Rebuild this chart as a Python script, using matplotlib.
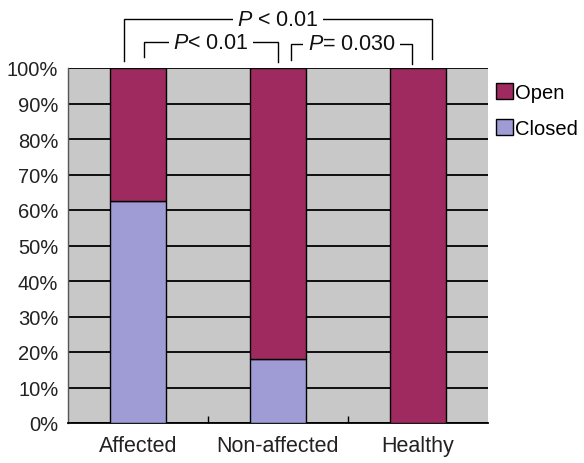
import matplotlib
matplotlib.use("Agg")
import matplotlib.pyplot as plt
from matplotlib.patches import Patch

plt.rcParams['font.family'] = ['Liberation Sans', 'DejaVu Sans']
plt.rcParams['mathtext.fontset'] = 'custom'
plt.rcParams['mathtext.rm'] = 'Liberation Sans'
plt.rcParams['mathtext.it'] = 'Liberation Sans:italic'

categories = ["Affected", "Non-affected", "Healthy"]
closed = [62.4, 18.0, 0.0]
open_ = [37.6, 82.0, 100.0]
yticks = [0, 10, 20, 30, 40, 50, 60, 70, 80, 90, 100]
p_labels = [r"$\mathit{P}$ < 0.01", r"$\mathit{P}$< 0.01", r"$\mathit{P}$= 0.030"]

c_open = "#9E2A5F"
c_closed = "#9F9BD5"
c_bg = "#C8C8C8"

fig = plt.figure(figsize=(5.84, 4.64), dpi=100)
ax = fig.add_axes([68/584, 40/464, 420/584, 355/464])
ax.set_facecolor(c_bg)

x = list(range(len(categories)))
ax.bar(x, closed, width=0.4, color=c_closed, edgecolor="black", linewidth=1.0, zorder=3, label="Closed")
ax.bar(x, open_, bottom=closed, width=0.4, color=c_open, edgecolor="black", linewidth=1.0, zorder=3, label="Open")

ax.set_xlim(-0.5, 2.5)
ax.set_ylim(0, 100)
ax.set_yticks(yticks)
ax.set_yticklabels([f"{v}%" for v in yticks], fontsize=14.5, color="#222222")
ax.set_xticks(x)
ax.set_xticklabels(categories, fontsize=15.5, color="#222222")
ax.set_xticks([0.5, 1.5], minor=True)
ax.tick_params(axis='x', which='major', length=0, pad=9)
ax.tick_params(axis='x', which='minor', direction='in', length=5, width=1.0, color='black')
ax.tick_params(axis='y', length=0, pad=7)
ax.yaxis.grid(True, color='black', linewidth=1.3, zorder=1)
ax.set_axisbelow(True)
for s in ['top', 'right']:
    ax.spines[s].set_visible(False)
ax.spines['left'].set_color('#555555')
ax.spines['left'].set_linewidth(1.0)
ax.spines['bottom'].set_color('black')
ax.spines['bottom'].set_linewidth(1.3)

def bracket(x0, x1, ytop, ybot0, ybot1, label):
    ax.plot([x0, x0, x1, x1], [ybot0, ytop, ytop, ybot1], color='black', lw=1.0,
            clip_on=False, zorder=4, solid_joinstyle='miter')
    ax.text((x0 + x1) / 2, ytop, label, ha='center', va='center', fontsize=15.5,
            color='#111111', clip_on=False, zorder=5,
            bbox=dict(facecolor='white', edgecolor='none', pad=3))

bracket(-0.1, 2.1, 113.8, 102.0, 102.5, p_labels[0])
bracket(0.043, 1.0, 107.2, 103.0, 101.8, p_labels[1])
bracket(1.093, 1.957, 106.8, 102.2, 101.0, p_labels[2])

handles = [Patch(facecolor=c_open, edgecolor='black', label='Open'),
           Patch(facecolor=c_closed, edgecolor='black', label='Closed')]
fig.legend(handles=handles, loc='upper left', bbox_to_anchor=(494/584, 1 - 82/464),
           frameon=False, fontsize=14.5, handlelength=0.85, handleheight=0.85,
           handletextpad=0.1, labelspacing=0.85, borderpad=0.1, borderaxespad=0)

fig.savefig("out.png", dpi=100)
